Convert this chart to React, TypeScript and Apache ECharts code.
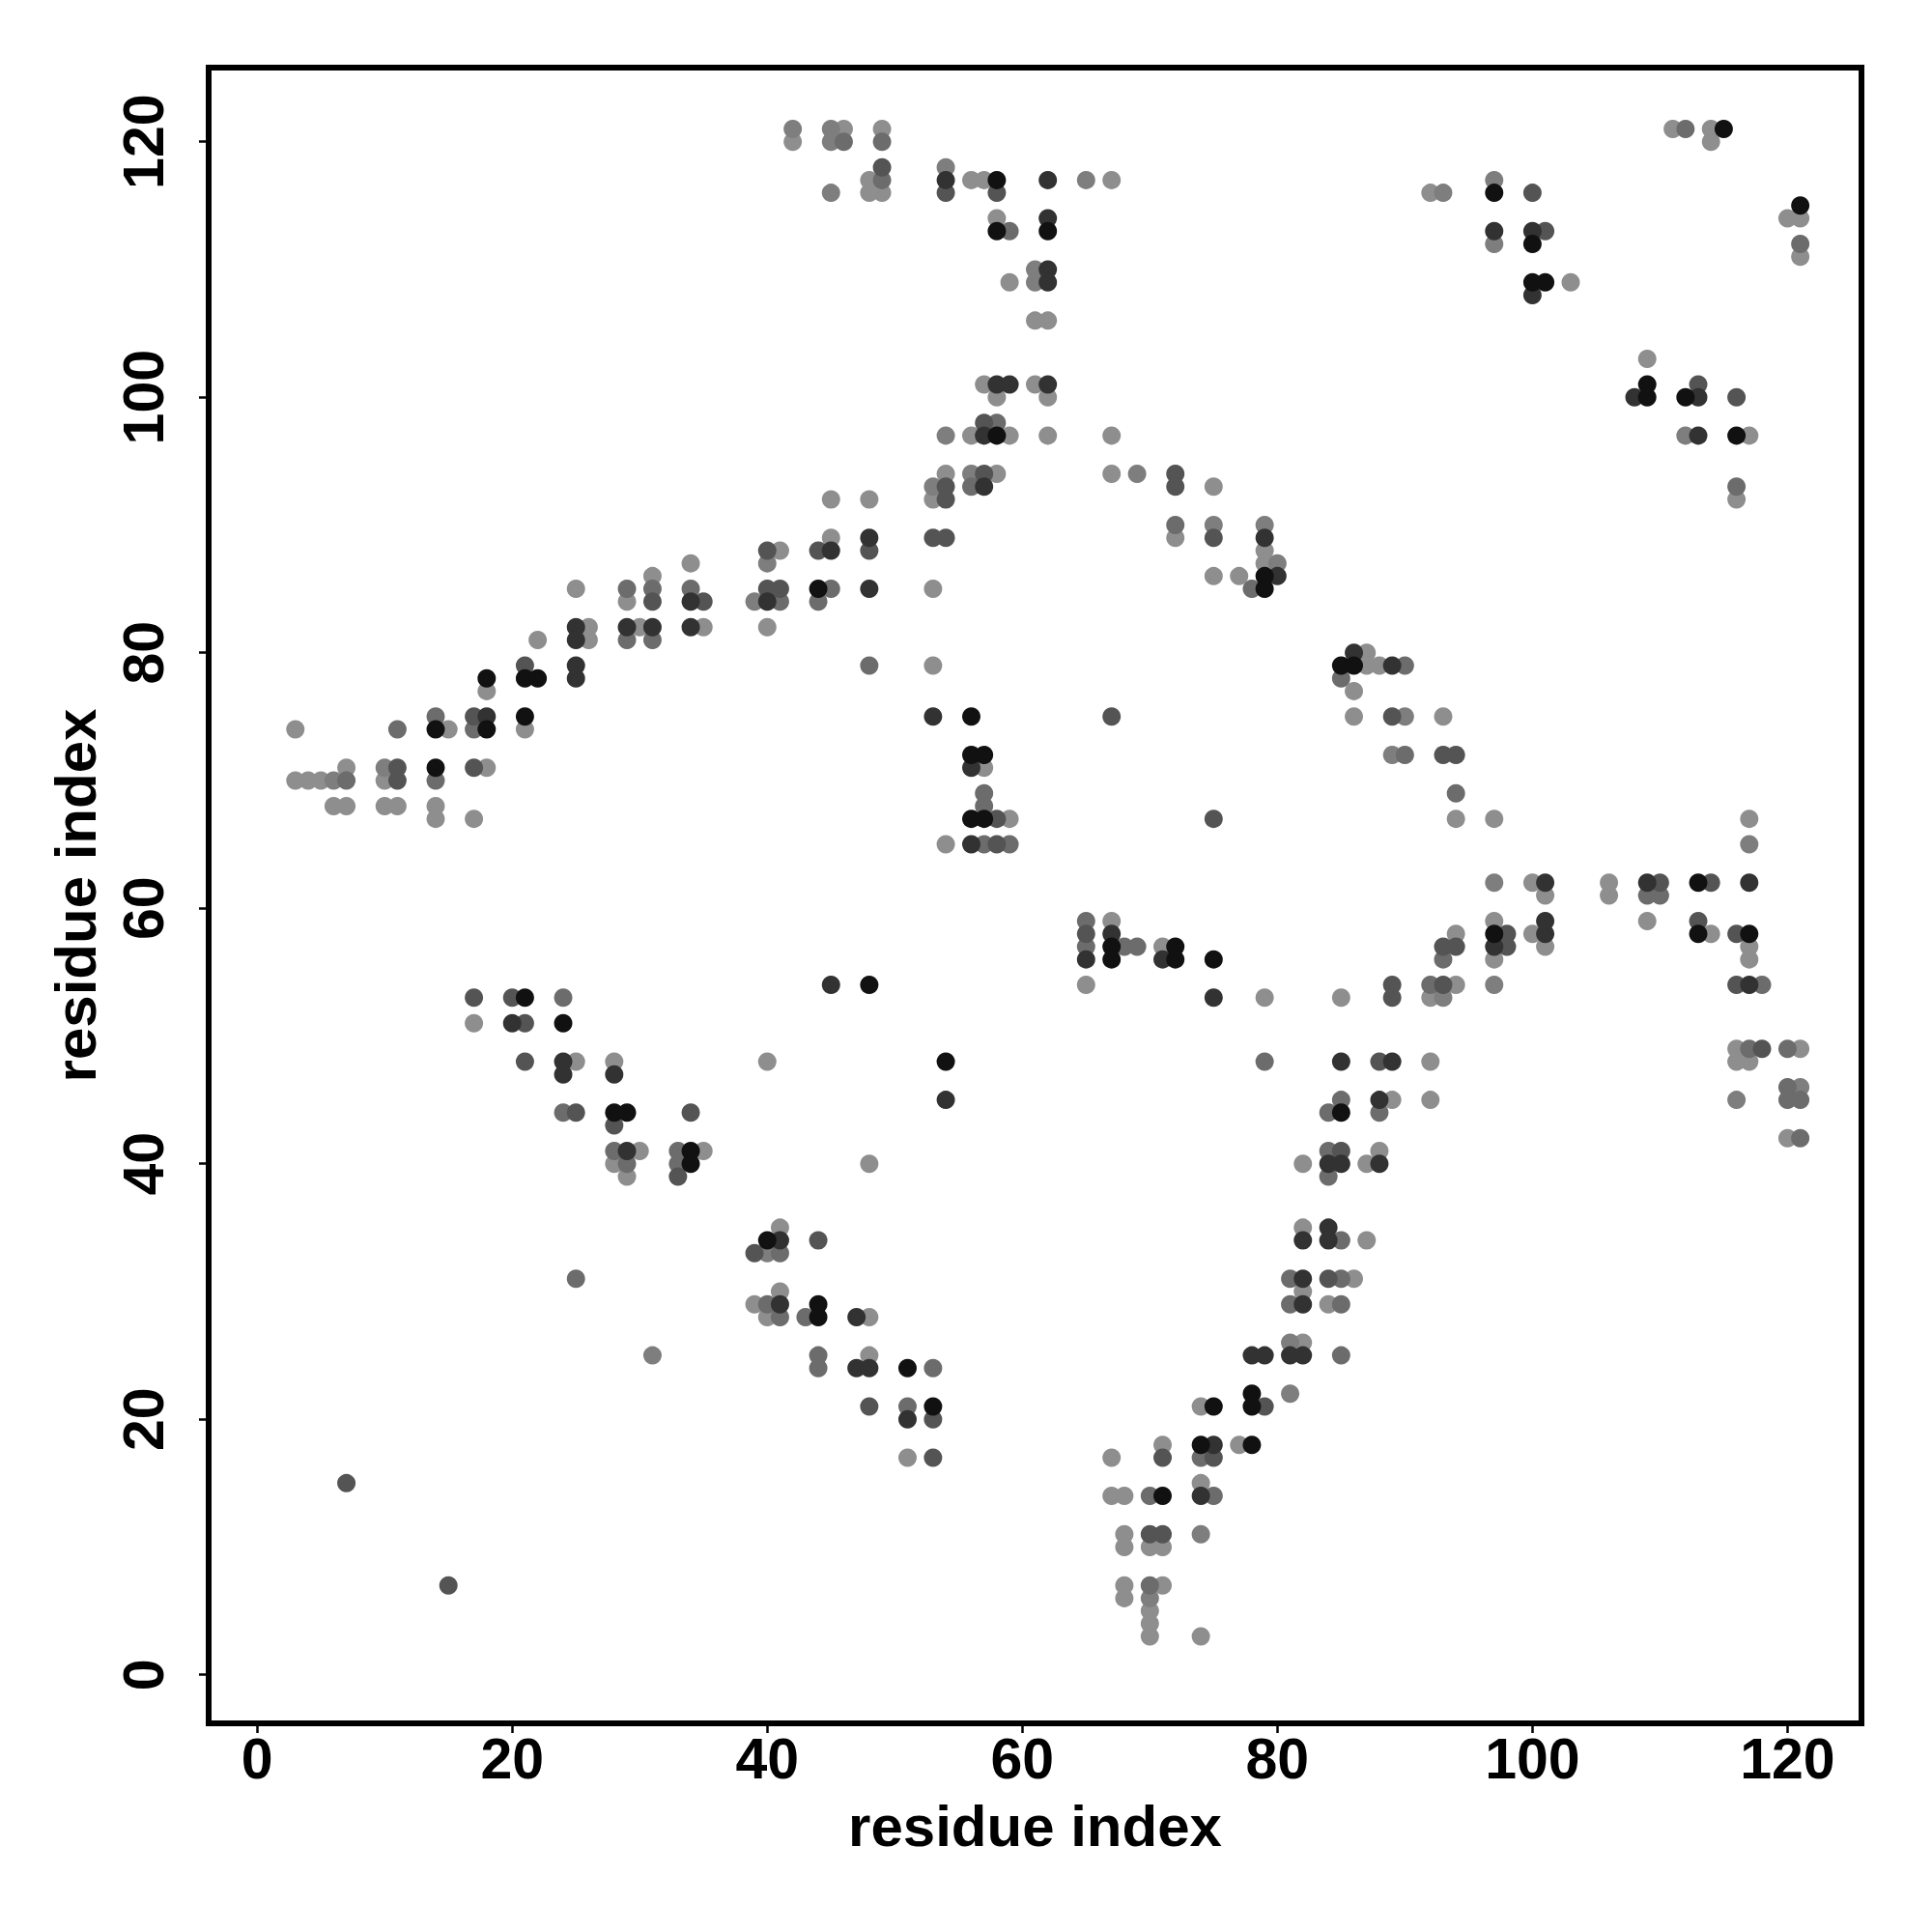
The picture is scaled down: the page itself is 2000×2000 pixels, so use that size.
import React, { useEffect, useRef } from "react";
import * as echarts from "echarts";

const tickValues = [0, 20, 40, 60, 80, 100, 120];
const xTitle = "residue index";
const yTitle = "residue index";

// contacts grouped by shade (lightest = lowest score, black = highest)
const lightPts = [
  [25,85],[29,84],[31,86],[34,87],
  [42,120],[46,121],[49,121],[49,116],[48,117],[48,116],[56,117],[57,117],[67,117],[58,114],[59,109],[61,106],[62,106],[57,101],[61,101],[58,100],[62,100],[56,97],[59,97],[62,97],[67,97],[54,94],[58,94],[67,94],[75,93],[53,92],[45,92],[48,92],[72,89],[79,88],[79,87],[75,86],[77,86],[45,89],[41,88],[53,85],
  [111,121],[114,121],[114,120],[92,116],[103,109],[120,114],[121,114],[121,111],[109,103],[117,97],[116,92],
  [26,82],[26,81],[30,82],[35,82],[22,81],[18,77],[15,74],[21,74],[3,74],[3,70],[4,70],[5,70],[7,71],[6,68],[7,68],[10,70],[10,68],[11,68],[14,68],[14,67],[18,71],[17,67],[17,51],[25,48],[28,48],[30,41],[35,41],[28,40],[29,39],
  [40,82],[53,79],[57,71],[59,67],[54,65],[67,59],[71,57],[65,54],[79,53],[40,48],[48,40],[82,40],
  [87,80],[87,79],[88,79],[86,77],[86,75],[93,75],[94,67],[97,67],[117,67],[100,62],[101,61],[106,62],[106,61],[97,59],[97,56],[100,58],[101,57],[109,59],[114,58],[117,57],[117,56],[94,58],[85,53],[94,54],[92,53],[92,48],[89,45],[92,45],[116,49],[121,49],[116,48],[117,48],[120,42],[88,41],[87,40],
  [39,29],
  [41,35],[41,30],[40,28],[48,28],[48,25],[51,17],[67,17],[71,18],[67,14],[68,14],[68,11],[68,10],[70,10],[71,10],[68,7],[68,6],[71,7],[70,5],[70,4],[70,3],[74,3],[74,15],[74,21],[77,18],[82,26],[82,30],[82,35],
  [87,34],[86,31],[84,29],
];

const midLightPts = [
  [39,84],[42,121],[45,121],[45,120],[45,116],[54,118],[65,117],[61,110],[61,109],[54,97],[56,94],[69,94],[53,93],[75,90],[79,90],[80,87],[40,87],
  [93,116],[97,117],[97,112],[112,97],
  [6,70],[10,71],
  [90,75],[89,72],[117,65],[97,62],[93,53],[97,54],[116,45],[121,46],
  [31,25],[40,33],[81,26],[81,22],[74,11],[70,6],
];

const midPts = [
  [29,85],[31,85],[34,85],[46,120],[49,120],[49,117],[58,98],[56,93],[72,90],[78,85],[59,113],[41,84],[45,85],[44,84],
  [112,121],[121,112],[116,93],
  [29,81],[31,81],[14,75],[17,74],[11,74],[7,70],[14,70],[24,53],[24,44],[28,41],[33,41],[29,40],[33,40],
  [48,79],[57,69],[57,68],[57,65],[59,65],[65,59],[65,57],[68,57],[69,57],[79,48],
  [90,79],[85,78],[94,69],[90,72],[109,61],[110,61],[93,56],[92,54],[118,54],[85,45],[84,44],[88,44],[117,49],[120,49],[120,46],[120,45],[121,45],[121,42],[84,41],
  [25,31],
  [41,33],[40,29],[41,28],[43,28],[44,25],[44,24],[53,24],[51,21],[70,14],[75,14],[70,7],[74,17],[81,31],[81,29],
  [85,34],[85,31],[85,29],[85,25],[84,39],
];

const darkMidPts = [
  [31,84],[35,84],[49,118],[54,116],[58,116],[57,98],[57,94],[72,94],[72,93],[54,93],[54,92],[75,89],[44,88],[48,88],[53,89],[54,89],[40,88],[40,85],[41,85],
  [100,116],[101,113],[113,101],[116,100],
  [21,79],[17,75],[11,71],[11,70],[17,71],[17,53],[20,53],[21,51],[21,48],[25,44],[28,43],[34,44],[33,39],
  [67,75],[58,67],[58,65],[65,58],[75,67],
  [89,75],[93,72],[94,72],[110,62],[114,62],[98,58],[98,57],[113,59],[116,58],[93,57],[94,57],[89,54],[89,53],[93,54],[116,54],[88,48],[118,49],[85,41],
  [7,15],[15,7],[39,33],
  [44,34],[48,21],[53,20],[53,17],[70,11],[71,11],[71,17],[75,17],[79,21],
  [84,31],
];

const darkPts = [
  [34,84],[54,117],[62,117],[62,114],[62,110],[62,109],[58,101],[59,101],[62,101],[57,97],[57,93],[79,89],[80,86],[45,88],[48,89],[40,84],[48,85],
  [97,113],[100,113],[100,108],[108,100],[113,100],[113,97],
  [25,82],[25,81],[29,82],[31,82],[34,82],[25,79],[25,78],[18,75],[20,51],[24,48],[24,47],[28,47],[29,41],
  [53,75],[56,71],[56,65],[65,56],[67,58],[71,56],[75,53],[45,54],[54,45],
  [86,80],[89,79],[101,62],[109,62],[117,62],[97,57],[101,59],[101,58],[117,54],[85,48],[89,48],[88,45],[84,40],[85,40],[88,40],
  [41,34],[41,29],[47,28],[47,24],[48,24],[51,20],[74,14],[75,18],[78,25],[79,25],[81,25],[82,25],[82,31],[82,29],[82,34],
  [84,35],[84,34],
];

const blackPts = [
  [58,117],[58,113],[62,113],[58,97],[79,86],[79,85],[44,85],
  [115,121],[97,116],[100,112],[100,109],[101,109],[121,115],[109,101],[109,100],[112,100],[116,97],
  [21,78],[22,78],[18,78],[14,74],[18,74],[21,75],[14,71],[21,53],[24,51],[28,44],[29,44],[34,41],[34,40],
  [56,75],[56,72],[57,72],[56,67],[57,67],[67,57],[67,56],[72,57],[72,56],[75,56],[48,54],[54,48],
  [85,79],[86,79],[113,62],[97,58],[113,58],[117,58],[85,44],
  [40,34],[44,29],[44,28],[51,24],[53,21],[71,14],[75,21],[74,18],[78,18],[78,22],[78,21],
];

const shadeGroups = [
  { name: "light", color: "#8e8e8e", data: lightPts },
  { name: "mid-light", color: "#7e7e7e", data: midLightPts },
  { name: "mid", color: "#6c6c6c", data: midPts },
  { name: "dark-mid", color: "#545454", data: darkMidPts },
  { name: "dark", color: "#323232", data: darkPts },
  { name: "black", color: "#111111", data: blackPts },
];

const FONT = "'Liberation Sans', Arial, Helvetica, sans-serif";

export default function App() {
  const ref = useRef<HTMLDivElement>(null);
  useEffect(() => {
    const chart = echarts.init(ref.current as HTMLDivElement, null, { renderer: "svg" });
    const labelStyle = {
      fontFamily: FONT,
      fontWeight: "bold" as const,
      fontSize: 59,
      color: "#000",
    };
    const titleStyle = {
      fontFamily: FONT,
      fontWeight: "bold" as const,
      fontSize: 60,
      color: "#000",
    };
    chart.setOption({
      animation: false,
      backgroundColor: "#ffffff",
      grid: {
        left: 216,
        top: 70,
        width: 1711,
        height: 1714,
        show: true,
        borderColor: "#000",
        borderWidth: 6,
        backgroundColor: "transparent",
        containLabel: false,
      },
      xAxis: {
        type: "value",
        min: -3.8,
        max: 125.8,
        name: xTitle,
        nameLocation: "middle",
        nameGap: 76,
        nameTextStyle: titleStyle,
        axisLine: { show: true, onZero: false, lineStyle: { color: "#000", width: 6 } },
        axisTick: {
          show: true,
          length: 10,
          lineStyle: { color: "#000", width: 2.5 },
          customValues: tickValues,
        },
        axisLabel: { ...labelStyle, margin: 7, customValues: tickValues },
        splitLine: { show: false },
      },
      yAxis: {
        type: "value",
        min: -3.8,
        max: 125.8,
        name: yTitle,
        nameLocation: "middle",
        nameGap: 108,
        nameTextStyle: titleStyle,
        axisLine: { show: true, onZero: false, lineStyle: { color: "#000", width: 6 } },
        axisTick: {
          show: true,
          length: 10,
          lineStyle: { color: "#000", width: 2.5 },
          customValues: tickValues,
        },
        axisLabel: { ...labelStyle, rotate: 90, margin: 38, customValues: tickValues },
        splitLine: { show: false },
      },
      series: shadeGroups.map((g) => ({
        name: g.name,
        type: "scatter",
        data: g.data,
        symbol: "circle",
        symbolSize: 19,
        itemStyle: { color: g.color, opacity: 1, borderWidth: 0 },
        emphasis: { disabled: true },
      })),
    });
    return () => chart.dispose();
  }, []);
  return (
    <div
      ref={ref}
      style={{ position: "absolute", left: 0, top: 0, width: 2000, height: 2000, background: "#fff" }}
    />
  );
}
